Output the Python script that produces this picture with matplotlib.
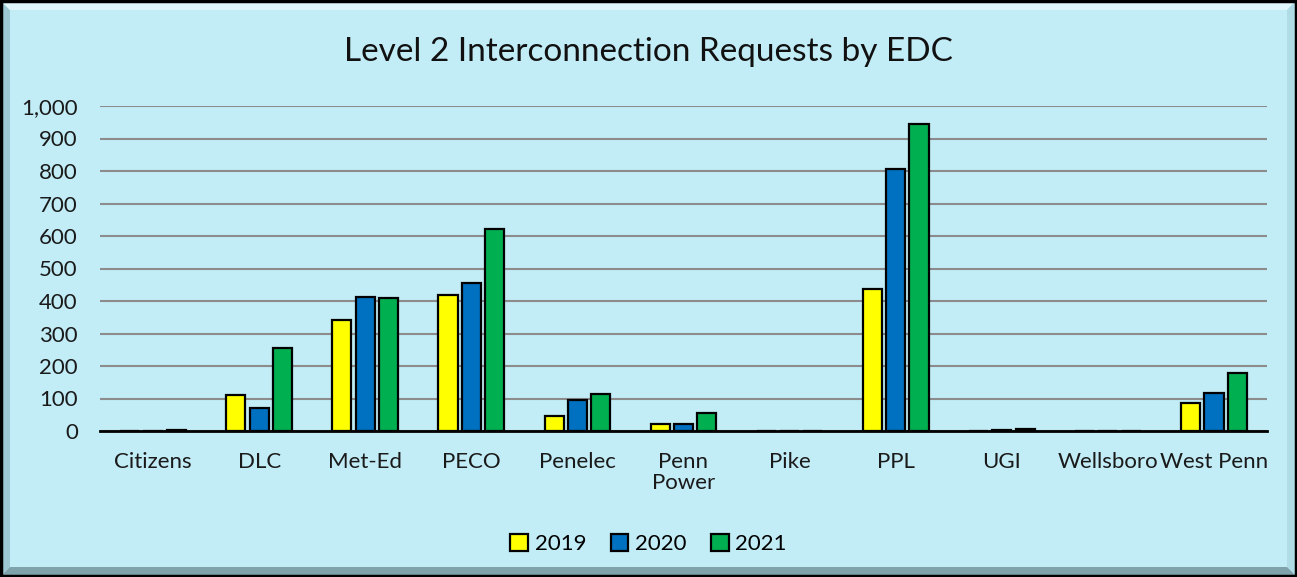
import matplotlib
matplotlib.use("Agg")
import matplotlib.pyplot as plt
from matplotlib.patches import Rectangle, Polygon
from matplotlib.ticker import FuncFormatter
import numpy as np

categories = ["Citizens", "DLC", "Met-Ed", "PECO", "Penelec", "Penn\nPower",
              "Pike", "PPL", "UGI", "Wellsboro", "West Penn"]
years = ["2019", "2020", "2021"]
v2019 = [0, 110, 341, 419, 45, 23, 0, 438, 0, 0, 87]
v2020 = [1, 70, 412, 454, 95, 22, 0, 807, 3, 1, 117]
v2021 = [2, 256, 409, 623, 115, 55, 0, 945, 5, 1, 179]
series = [v2019, v2020, v2021]
colors = ["#FFFF00", "#0070C0", "#00B050"]
title = "Level 2 Interconnection Requests by EDC"

plt.rcParams['font.family'] = ['Lato', 'DejaVu Sans']
W, H = 1297, 577
fig = plt.figure(figsize=(W / 100, H / 100), dpi=100)
bg = "#C2ECF6"
fig.patch.set_facecolor(bg)

# bevel frame
bw = 10
fig.patches.append(Polygon([[0, 0], [bw, bw], [bw, H - bw], [0, H]], closed=True,
                           transform=None, facecolor="#9DC8D3", edgecolor="none"))
fig.patches.append(Polygon([[0, H], [bw, H - bw], [W - bw, H - bw], [W, H]], closed=True,
                           transform=None, facecolor="#E2F7FC", edgecolor="none"))
fig.patches.append(Polygon([[W, H], [W - bw, H - bw], [W - bw, bw], [W, 0]], closed=True,
                           transform=None, facecolor="#B0DCE6", edgecolor="none"))
fig.patches.append(Polygon([[0, 0], [bw, bw], [W - bw, bw], [W, 0]], closed=True,
                           transform=None, facecolor="#7FA3AA", edgecolor="none"))
fig.patches.append(Rectangle((0.001, 0.002), 0.998, 0.996, transform=fig.transFigure,
                             fill=False, edgecolor="black", linewidth=2.5))

ax = fig.add_axes([100 / W, (H - 431) / H, (1267 - 100) / W, (431 - 106) / H])
ax.set_facecolor("none")
x = np.arange(len(categories))
width = 0.18
offsets = [-0.22, 0.0, 0.22]
for vals, col, off, lab in zip(series, colors, offsets, years):
    ax.bar(x + off, vals, width, color=col, edgecolor="black", linewidth=1.6,
           label=lab, zorder=3)

ax.set_ylim(0, 1000)
ax.set_xlim(-0.5, len(categories) - 0.5)
ax.set_yticks(np.arange(0, 1001, 100))
ax.yaxis.set_major_formatter(FuncFormatter(lambda v, p: f"{int(v):,}"))
ax.grid(axis="y", color="#8C8C8C", linewidth=1.5, zorder=0)
ax.set_axisbelow(True)
for s in ["top", "right", "left"]:
    ax.spines[s].set_visible(False)
ax.spines["bottom"].set_color("black")
ax.spines["bottom"].set_linewidth(2)
ax.spines["bottom"].set_zorder(4)
ax.tick_params(axis="both", length=0, labelsize=16, colors="#1a1a1a")
ax.tick_params(axis="y", pad=16)
ax.tick_params(axis="x", pad=15)
ax.set_xticks(x)
ax.set_xticklabels(categories, linespacing=1.05)

fig.text(0.5, (H - 52) / H, title, ha="center", va="center", fontsize=24, color="#111111")

leg = fig.legend(loc="center", bbox_to_anchor=(0.5, (H - 544) / H), ncol=3, frameon=False,
                 fontsize=16, handlelength=0.8, handleheight=0.8, handletextpad=0.3,
                 columnspacing=1.1)

fig.savefig("out.png", dpi=100, facecolor=fig.get_facecolor())
